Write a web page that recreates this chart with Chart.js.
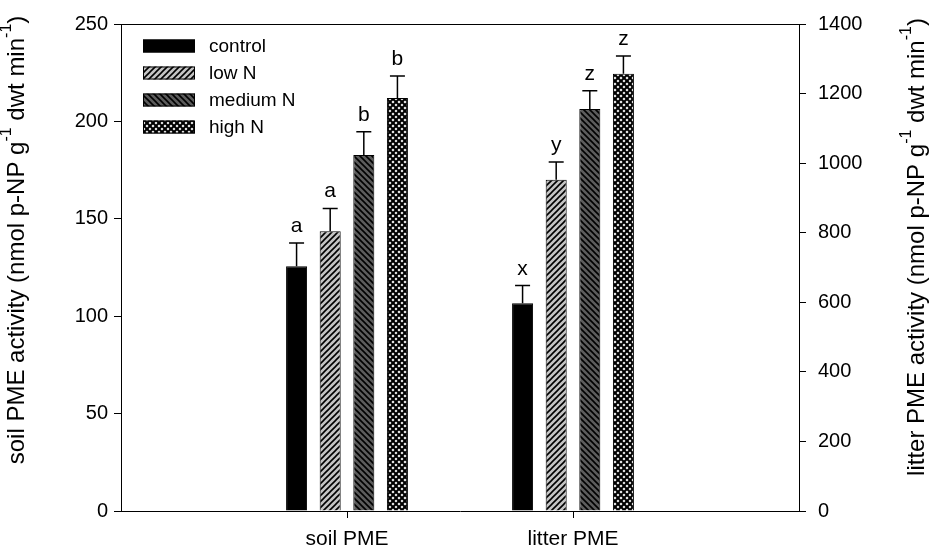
<!DOCTYPE html>
<html>
<head>
<meta charset="utf-8">
<script src="https://cdn.jsdelivr.net/npm/chart.js@4.4.1/dist/chart.umd.min.js"></script>
<style>
  body { margin: 0; background: #fff; }
  #wrap { width: 931px; height: 556px; }
</style>
</head>
<body>
<div id="wrap"><canvas id="chart" width="931" height="556"></canvas></div>
<script>
// categories (empty slots at the ends keep the groups at 1/3 and 2/3)
const categories = ['', 'soil PME', 'litter PME', ''];
const seriesNames = ['control', 'low N', 'medium N', 'high N'];

// soil PME, left axis
const soilMeans = [125.6, 143.6, 182.7, 212.0];
const soilErrors = [12.0, 11.7, 12.0, 11.3];
const soilLetters = ['a', 'a', 'b', 'b'];

// litter PME, right axis
const litterMeans = [597, 952, 1156, 1257];
const litterErrors = [51, 51, 52, 51];
const litterLetters = ['x', 'y', 'z', 'z'];

// axis titles, pieces: [text, superscript?]
const leftTitle = [['soil PME activity (nmol p-NP g', false], ['-1', true], [' dwt min', false], ['-1', true], [')', false]];
const rightTitle = [['litter PME activity (nmol p-NP g', false], ['-1', true], [' dwt min', false], ['-1', true], [')', false]];

const FONT = '"Liberation Sans", Arial, Helvetica, sans-serif';

function makePattern(bg, kind) {
    const s = 6;
    const c = document.createElement('canvas');
    c.width = s; c.height = s;
    const g = c.getContext('2d');
    g.fillStyle = bg;
    g.fillRect(0, 0, s, s);
    g.strokeStyle = '#000';
    g.lineWidth = 1.6;
    const up = () => {
        g.beginPath();
        g.moveTo(-1, s + 1); g.lineTo(s + 1, -1);
        g.moveTo(-1, 1); g.lineTo(1, -1);
        g.moveTo(s - 1, s + 1); g.lineTo(s + 1, s - 1);
        g.stroke();
    };
    const down = () => {
        g.beginPath();
        g.moveTo(-1, -1); g.lineTo(s + 1, s + 1);
        g.moveTo(s - 1, -1); g.lineTo(s + 1, 1);
        g.moveTo(-1, s - 1); g.lineTo(1, s + 1);
        g.stroke();
    };
    if (kind === 'up') up();
    if (kind === 'down') down();
    if (kind === 'cross') { g.lineWidth = 2; up(); down(); }
    return document.getElementById('chart').getContext('2d').createPattern(c, 'repeat');
}

const fills = [
    '#000000',
    makePattern('#c4c4c4', 'up'),
    makePattern('#5c5c5c', 'down'),
    makePattern('#f4f4f4', 'cross')
];

const datasets = [];
seriesNames.forEach((name, i) => {
    datasets.push({
        label: name,
        data: [null, soilMeans[i], null, null],
        errors: [null, soilErrors[i], null, null],
        letters: [null, soilLetters[i], null, null],
        yAxisID: 'y',
        backgroundColor: fills[i],
        borderColor: '#000',
        borderWidth: 1,
        skipNull: true
    });
});
seriesNames.forEach((name, i) => {
    datasets.push({
        label: name,
        data: [null, null, litterMeans[i], null],
        errors: [null, null, litterErrors[i], null],
        letters: [null, null, litterLetters[i], null],
        yAxisID: 'y1',
        backgroundColor: fills[i],
        borderColor: '#000',
        borderWidth: 1,
        skipNull: true
    });
});

// error bars + significance letters
const errorBars = {
    id: 'errorBars',
    afterDatasetsDraw(chart) {
        const ctx = chart.ctx;
        ctx.save();
        ctx.strokeStyle = '#000';
        ctx.lineWidth = 1.5;
        ctx.fillStyle = '#000';
        ctx.font = '21px ' + FONT;
        ctx.textAlign = 'center';
        ctx.textBaseline = 'alphabetic';
        chart.data.datasets.forEach((ds, di) => {
            const meta = chart.getDatasetMeta(di);
            const scale = chart.scales[ds.yAxisID];
            meta.data.forEach((bar, idx) => {
                const v = ds.data[idx];
                if (v === null) return;
                const yTop = scale.getPixelForValue(v + ds.errors[idx]);
                ctx.beginPath();
                ctx.moveTo(bar.x, bar.y);
                ctx.lineTo(bar.x, yTop);
                ctx.moveTo(bar.x - 7.5, yTop);
                ctx.lineTo(bar.x + 7.5, yTop);
                ctx.stroke();
                ctx.fillText(ds.letters[idx], bar.x, yTop - 11);
            });
        });
        ctx.restore();
    }
};

function drawTitle(ctx, parts, cx, cy, size) {
    const big = size + 'px ' + FONT;
    const small = Math.round(size * 0.65) + 'px ' + FONT;
    let total = 0;
    parts.forEach(([t, sup]) => {
        ctx.font = sup ? small : big;
        total += ctx.measureText(t).width;
    });
    ctx.save();
    ctx.translate(cx, cy);
    ctx.rotate(-Math.PI / 2);
    ctx.textBaseline = 'middle';
    ctx.textAlign = 'left';
    ctx.fillStyle = '#000';
    let x = -total / 2;
    parts.forEach(([t, sup]) => {
        ctx.font = sup ? small : big;
        ctx.fillText(t, x, sup ? -size * 0.42 : 0);
        x += ctx.measureText(t).width;
    });
    ctx.restore();
}

// top frame line, category ticks, legend inside the plot, axis titles
const frameLegend = {
    id: 'frameLegend',
    afterDraw(chart) {
        const { ctx, chartArea } = chart;
        const xs = chart.scales.x;
        ctx.save();
        ctx.strokeStyle = '#000';
        ctx.lineWidth = 1;
        ctx.beginPath();
        ctx.moveTo(chartArea.left, chartArea.top + 0.5);
        ctx.lineTo(chartArea.right, chartArea.top + 0.5);
        [1, 2].forEach((i) => {
            const px = Math.round(xs.getPixelForValue(i)) + 0.5;
            ctx.moveTo(px, chartArea.bottom);
            ctx.lineTo(px, chartArea.bottom + 7);
        });
        ctx.stroke();

        ctx.font = '19px ' + FONT;
        ctx.textBaseline = 'middle';
        ctx.textAlign = 'left';
        seriesNames.forEach((name, i) => {
            const x = chartArea.left + 22;
            const y = chartArea.top + 22 + i * 27;
            ctx.fillStyle = fills[i];
            ctx.fillRect(x, y - 6.5, 52, 13);
            ctx.strokeStyle = '#000';
            ctx.strokeRect(x + 0.5, y - 6, 51, 12);
            ctx.fillStyle = '#000';
            ctx.fillText(name, x + 66, y + 1);
        });
        ctx.restore();

        drawTitle(ctx, leftTitle, 17, 240, 24);
        drawTitle(ctx, rightTitle, 917, 247, 24);
    }
};

new Chart(document.getElementById('chart'), {
    type: 'bar',
    data: { labels: categories, datasets: datasets },
    plugins: [errorBars, frameLegend],
    options: {
        responsive: false,
        animation: false,
        layout: { padding: { top: 24, left: 0, right: 0, bottom: 0 } },
        datasets: {
            bar: { categoryPercentage: 0.595, barPercentage: 0.625 }
        },
        plugins: {
            legend: { display: false },
            tooltip: { enabled: false }
        },
        scales: {
            x: {
                offset: false,
                afterFit: (s) => { s.height = 45; },
                border: { display: true, color: '#000', width: 1 },
                grid: { display: false, tickLength: 7 },
                ticks: {
                    color: '#000',
                    padding: 9,
                    maxRotation: 0,
                    autoSkip: false,
                    font: { family: FONT, size: 21 }
                }
            },
            y: {
                position: 'left',
                min: 0,
                max: 250,
                afterFit: (s) => { s.width = 121; },
                border: { display: true, color: '#000', width: 1 },
                grid: { drawOnChartArea: false, tickLength: 7, color: '#000' },
                ticks: {
                    stepSize: 50,
                    color: '#000',
                    padding: 6,
                    font: { family: FONT, size: 20 }
                }
            },
            y1: {
                position: 'right',
                min: 0,
                max: 1400,
                afterFit: (s) => { s.width = 132; },
                border: { display: true, color: '#000', width: 1 },
                grid: { drawOnChartArea: false, tickLength: 7, color: '#000' },
                ticks: {
                    stepSize: 200,
                    color: '#000',
                    padding: 12,
                    font: { family: FONT, size: 20 },
                    callback: (v) => String(v)
                }
            }
        }
    }
});
</script>
</body>
</html>
